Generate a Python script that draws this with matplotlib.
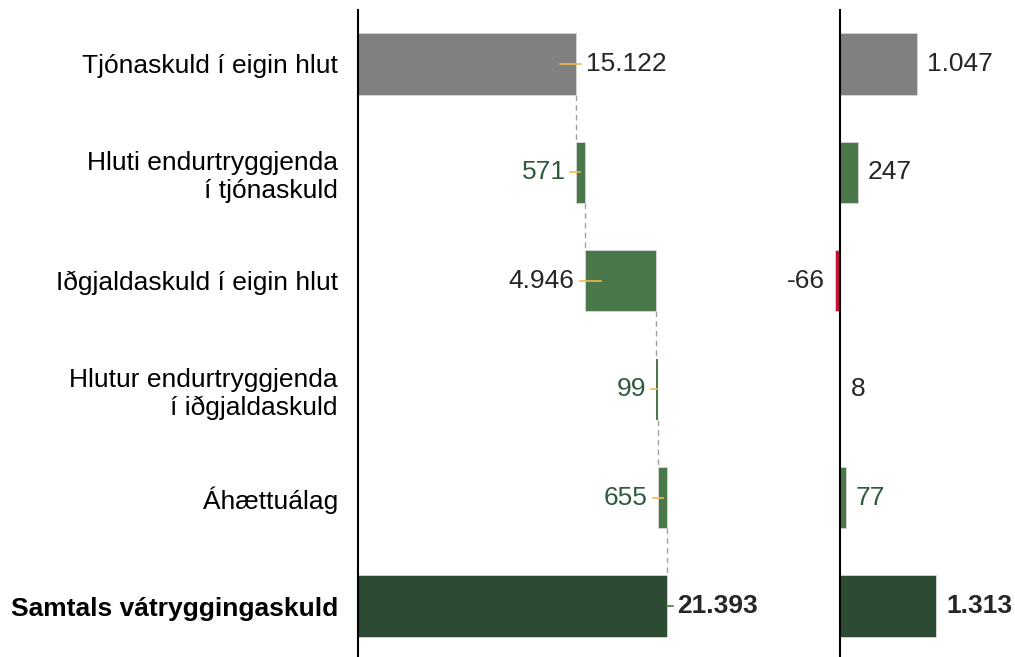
import matplotlib
matplotlib.use("Agg")
import matplotlib.pyplot as plt

plt.rcParams['font.family'] = ['Liberation Sans', 'DejaVu Sans']

# ----> data
categories = ["Tjónaskuld í eigin hlut",
              "Hluti endurtryggjenda\ní tjónaskuld",
              "Iðgjaldaskuld í eigin hlut",
              "Hlutur endurtryggjenda\ní iðgjaldaskuld",
              "Áhættuálag",
              "Samtals vátryggingaskuld"]
left_values = [15122, 571, 4946, 99, 655, 21393]
left_labels = ["15.122", "571", "4.946", "99", "655", "21.393"]
right_values = [1047, 247, -66, 8, 77, 1313]
right_labels = ["1.047", "247", "-66", "8", "77", "1.313"]

GREY = "#808080"
GREEN = "#4a784a"
DARK = "#2d4a33"
RED = "#c8103c"
TXT = "#262626"
TXT_GREEN = "#2f5a3c"
ORANGE = "#f2b94a"

bar_colors = [GREY, GREEN, GREEN, GREEN, GREEN, DARK]
left_txt_colors = [TXT, TXT_GREEN, TXT, TXT_GREEN, TXT_GREEN, TXT]
right_txt_colors = [TXT, TXT, TXT, TXT, TXT_GREEN, TXT]

W, H = 1015, 657
fig = plt.figure(figsize=(W / 100, H / 100), dpi=100)

top = (H - 10) / H
ylim = (5.47, -0.498)
bh = 0.565

#############################
# ----> left panel (waterfall)
#############################
ax = fig.add_axes([358 / W, 0, 432 / W, top])
upx = 21393 / 309.0   # data units per pixel
ax.set_xlim(0, 432 * upx)
ax.set_ylim(*ylim)

starts = []
run = 0
for i, v in enumerate(left_values):
    if i == 0 or i == len(left_values) - 1:
        starts.append(0)
        run = v if i == 0 else run
    else:
        starts.append(run)
        run += v

for i, v in enumerate(left_values):
    lw = 0.6 if abs(v) / upx > 4 else 0
    ax.barh(i, v, left=starts[i], height=bh, color=bar_colors[i],
            edgecolor="#d8d8d8", linewidth=lw, zorder=2)

# dashed connectors
for i in range(len(left_values) - 1):
    x = starts[i] + left_values[i]
    ax.plot([x, x], [i + bh / 2, i + 1 - bh / 2], color="#a0a0a0",
            linestyle=(0, (4, 3)), linewidth=1, zorder=1)

# small leader ticks (pixel offsets)
tick_offs = [(-16, 5), (-6, 4), (-5, 16), (-5, 1), (-5, 5), (0, 6)]
for i, v in enumerate(left_values):
    if i == 0 or i == len(left_values) - 1:
        ref = starts[i] + v
    else:
        ref = starts[i]
    a, b = tick_offs[i]
    col = GREEN if i == len(left_values) - 1 else ORANGE
    ax.plot([ref + a * upx, ref + b * upx], [i, i], color=col, linewidth=1.2, zorder=3)

for i, v in enumerate(left_values):
    last = i == len(left_values) - 1
    if i == 0 or last:
        ax.text(starts[i] + v + 10 * upx, i, left_labels[i], ha="left", va="center",
                fontsize=19, color=left_txt_colors[i],
                fontweight="bold" if last else "normal")
    else:
        ax.text(starts[i] - 10 * upx, i, left_labels[i], ha="right", va="center",
                fontsize=19, color=left_txt_colors[i])

ax.set_yticks(range(len(categories)))
ax.set_yticklabels(categories, fontsize=19)
ax.get_yticklabels()[-1].set_fontweight("bold")
ax.tick_params(axis="y", length=0, pad=14.4, colors="black")
ax.set_xticks([])
for s in ["top", "right", "bottom"]:
    ax.spines[s].set_visible(False)
ax.spines["left"].set_linewidth(1.5)
ax.patch.set_alpha(0)

#############################
# ----> right panel
#############################
ax2 = fig.add_axes([840 / W, 0, 175 / W, top])
upx2 = 1313 / 96.0
ax2.set_xlim(0, 175 * upx2)
ax2.set_ylim(*ylim)

for i, v in enumerate(right_values):
    col = RED if v < 0 else bar_colors[i]
    lw = 0.6 if abs(v) / upx2 > 4 else 0
    ax2.barh(i, v, height=bh, color=col, edgecolor="#d8d8d8", linewidth=lw,
             zorder=2, clip_on=False)
    last = i == len(right_values) - 1
    if v < 0:
        ax2.text(v - 10 * upx2, i, right_labels[i], ha="right", va="center",
                 fontsize=19, color=right_txt_colors[i])
    else:
        ax2.text(v + 10 * upx2, i, right_labels[i], ha="left", va="center",
                 fontsize=19, color=right_txt_colors[i],
                 fontweight="bold" if last else "normal")

ax2.set_xticks([])
ax2.set_yticks([])
for s in ["top", "right", "bottom"]:
    ax2.spines[s].set_visible(False)
ax2.spines["left"].set_linewidth(1.5)
ax2.spines["left"].set_zorder(3)
ax2.patch.set_alpha(0)

fig.savefig("out.png", dpi=100)
